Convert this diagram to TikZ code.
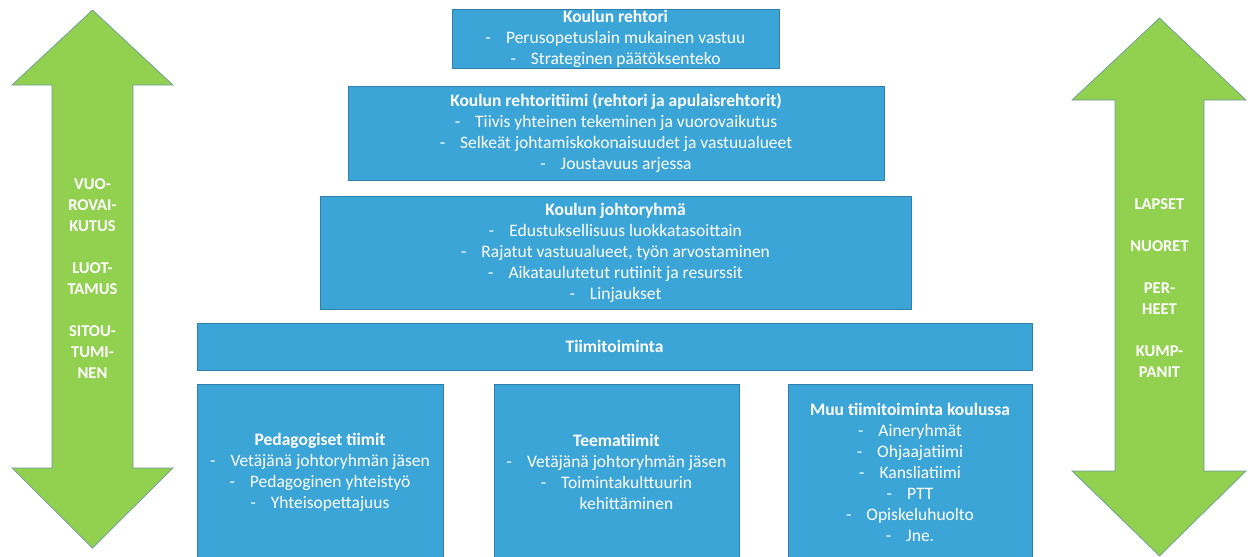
\documentclass[tikz,border=0pt]{standalone}
\usepackage{fontspec}
\setmainfont{Carlito}
\definecolor{boxfill}{HTML}{3BA5D7}
\definecolor{boxline}{HTML}{2F7FAE}
\definecolor{arrowfill}{HTML}{92D050}
\definecolor{arrowline}{HTML}{6E9AA0}
\tikzset{
  orgbox/.style={draw=boxline, line width=0.8pt, fill=boxfill, text=white, align=center,
    inner sep=0pt, font=\fontsize{17.5}{21}\selectfont},
  arrowtxt/.style={text=white, align=center, font=\bfseries\fontsize{16.5}{21}\selectfont},
  bigarrow/.style={draw=arrowline, line width=0.7pt, fill=arrowfill, line join=miter}
}
\newcommand{\itm}[1]{-\hspace{15pt}#1}
\begin{document}
\begin{tikzpicture}[x=1pt,y=-1pt]
\useasboundingbox (0,0) rectangle (1256,557);
\clip (0,0) rectangle (1256,557);
% left arrow
\draw[bigarrow] (92.5,10) -- (173,85) -- (133,85) -- (133,468) -- (173,468) -- (92.5,548)
  -- (12,468) -- (52,468) -- (52,85) -- (12,85) -- cycle;
\node[arrowtxt] (ltxt) at (92.5,278.5) {VUO-\\ROVAI-\\KUTUS\\[21pt]LUOT-\\TAMUS\\[21pt]SITOU-\\TUMI-\\NEN};
% right arrow
\draw[bigarrow] (1159.5,18) -- (1246,100) -- (1204,100) -- (1204,471) -- (1246,471) -- (1159.5,556)
  -- (1072,471) -- (1115,471) -- (1115,100) -- (1072,100) -- cycle;
\node[arrowtxt] (rtxt) at (1159.5,288) {LAPSET\\[21pt]NUORET\\[21pt]PER-\\HEET\\[21pt]KUMP-\\PANIT};
% boxes
\node[orgbox, minimum width=327pt, minimum height=59pt] (rehtori) at (615.5,39)
  {\textbf{Koulun rehtori}\\\itm{Perusopetuslain mukainen vastuu}\\\itm{Strateginen päätöksenteko}};
\node[orgbox, minimum width=536pt, minimum height=94pt] (rtiimi) at (616,133)
  {\textbf{Koulun rehtoritiimi (rehtori ja apulaisrehtorit)}\\\itm{Tiivis yhteinen tekeminen ja vuorovaikutus}\\\itm{Selkeät johtamiskokonaisuudet ja vastuualueet}\\\itm{Joustavuus arjessa}};
\node[orgbox, minimum width=591pt, minimum height=113pt] (johto) at (615.5,252.5)
  {\textbf{Koulun johtoryhmä}\\\itm{Edustuksellisuus luokkatasoittain}\\\itm{Rajatut vastuualueet, työn arvostaminen}\\\itm{Aikataulutetut rutiinit ja resurssit}\\\itm{Linjaukset}};
\node[orgbox, minimum width=835pt, minimum height=47pt] (tiimi) at (614.5,346.5)
  {\textbf{Tiimitoiminta}};
\node[orgbox, minimum width=246pt, minimum height=176pt] (pedag) at (320,472)
  {\textbf{Pedagogiset tiimit}\\\itm{Vetäjänä johtoryhmän jäsen}\\\itm{Pedagoginen yhteistyö}\\\itm{Yhteisopettajuus}};
\node[orgbox, minimum width=245pt, minimum height=176pt] (teema) at (616.5,472)
  {\textbf{Teematiimit}\\\itm{Vetäjänä johtoryhmän jäsen}\\\itm{Toimintakulttuurin}\\\hspace{20pt}kehittäminen};
\node[orgbox, minimum width=244pt, minimum height=176pt] (muu) at (910,472)
  {\textbf{Muu tiimitoiminta koulussa}\\\itm{Aineryhmät}\\\itm{Ohjaajatiimi}\\\itm{Kansliatiimi}\\\itm{PTT}\\\itm{Opiskeluhuolto}\\\itm{Jne.}};
\end{tikzpicture}
\end{document}
